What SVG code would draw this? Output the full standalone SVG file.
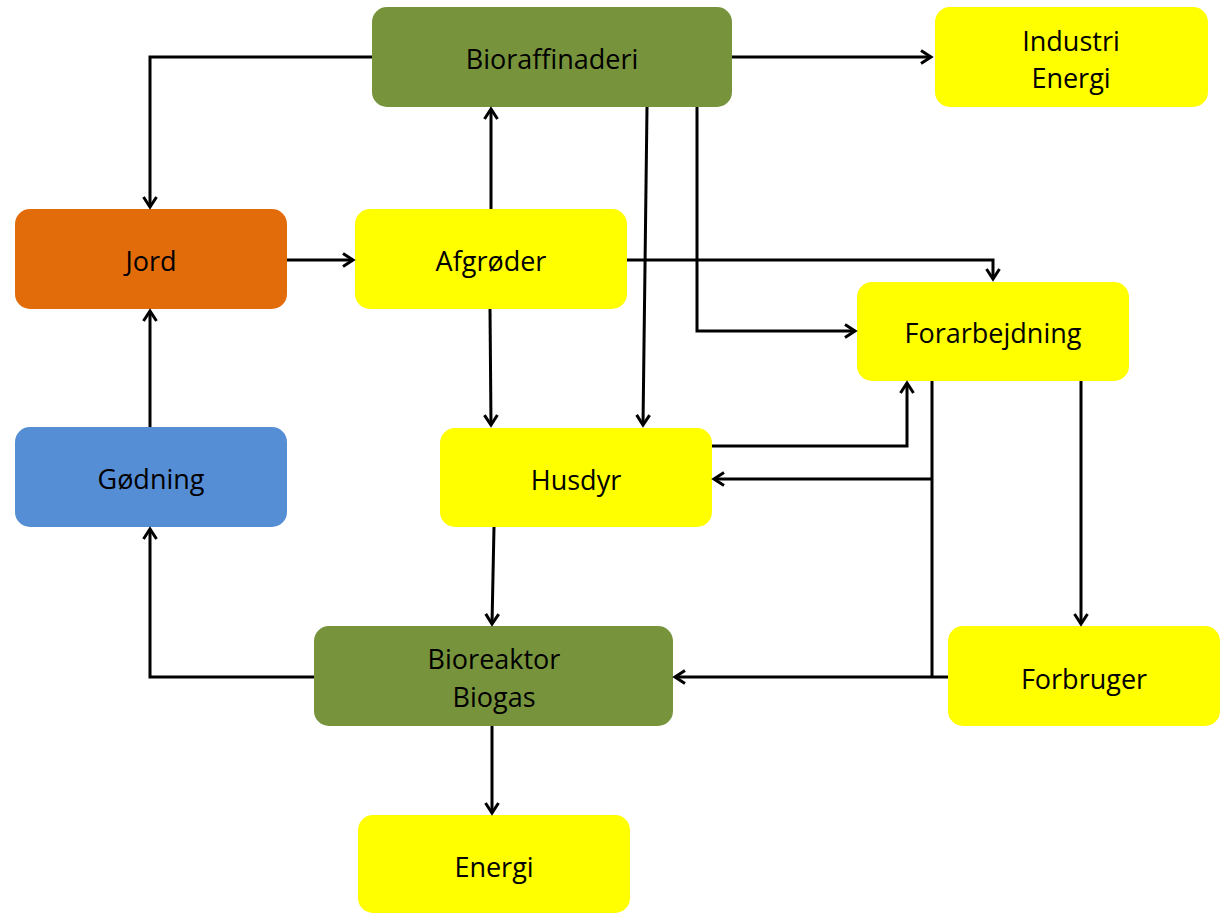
<svg xmlns="http://www.w3.org/2000/svg" width="1223" height="913" viewBox="0 0 1223 913">
<style>
.g{fill:#77933C}.y{fill:#FFFF00}.o{fill:#E36C0A}.b{fill:#558ED5}
text{font-family:"Open Sans","Liberation Sans",sans-serif;font-size:27px;fill:#000;text-anchor:middle;dominant-baseline:central}
.c path{fill:none;stroke:#000;stroke-width:3;marker-end:url(#ah)}
.c path.l{marker-end:none}
</style>
<defs>
<marker id="ah" viewBox="0 0 16 16" refX="13" refY="8" markerWidth="16" markerHeight="16" markerUnits="userSpaceOnUse" orient="auto">
<path d="M3,1.5 L13,8 L3,14.5" fill="none" stroke="#000" stroke-width="3"/>
</marker>
</defs>
<rect width="1223" height="913" fill="#fff"/>
<g id="bioraffinaderi"><rect class="g" x="372" y="7" width="360" height="100" rx="15"/><text x="552" y="58">Bioraffinaderi</text></g>
<g id="industri"><rect class="y" x="935" y="7" width="273" height="100" rx="15"/><text x="1071" y="40">Industri</text><text x="1071" y="77">Energi</text></g>
<g id="jord"><rect class="o" x="15" y="209" width="272" height="100" rx="15"/><text x="151" y="260">Jord</text></g>
<g id="afgroder"><rect class="y" x="355" y="209" width="272" height="100" rx="15"/><text x="491" y="260">Afgrøder</text></g>
<g id="forarbejdning"><rect class="y" x="857" y="282" width="272" height="99" rx="15"/><text x="993" y="332">Forarbejdning</text></g>
<g id="godning"><rect class="b" x="15" y="427" width="272" height="100" rx="15"/><text x="151" y="478">Gødning</text></g>
<g id="husdyr"><rect class="y" x="440" y="428" width="272" height="99" rx="15"/><text x="576" y="479">Husdyr</text></g>
<g id="bioreaktor"><rect class="g" x="314" y="626" width="359" height="100" rx="15"/><text x="494" y="658">Bioreaktor</text><text x="494" y="696">Biogas</text></g>
<g id="forbruger"><rect class="y" x="948" y="626" width="272" height="100" rx="15"/><text x="1084" y="678">Forbruger</text></g>
<g id="energi"><rect class="y" x="358" y="815" width="272" height="98" rx="15"/><text x="494" y="866">Energi</text></g>
<g class="c" id="connectors">
<path d="M372,57 H150 V207"/>
<path d="M732,57 H931"/>
<path d="M287,260 H353"/>
<path d="M491,209 V109"/>
<path d="M490,309 L491,425"/>
<path d="M647,107 L643,425"/>
<path d="M697,107 V331 H855"/>
<path d="M627,260 H993 V279"/>
<path d="M712,446 H907 V383"/>
<path class="l" d="M932,381 V677"/>
<path d="M932,479 H714"/>
<path d="M948,677 H675"/>
<path d="M1081,381 V624"/>
<path d="M494,527 L492,624"/>
<path d="M314,677 H150 V529"/>
<path d="M150,427 V311"/>
<path d="M492,726 V813"/>
</g>
</svg>
